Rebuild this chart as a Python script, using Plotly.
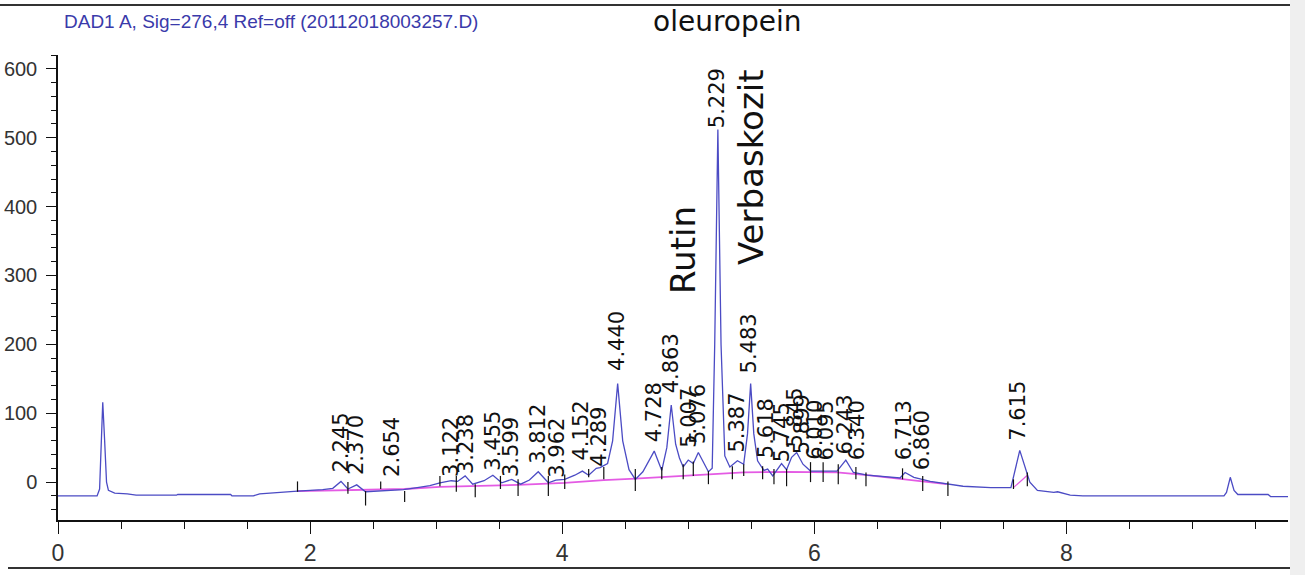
import plotly.graph_objects as go

# ---- chromatogram trace (retention time [min], absorbance [mAU]) ----
time_min = [0.00, 0.30, 0.31, 0.33, 0.345, 0.355, 0.37, 0.385, 0.40, 0.45, 0.55, 0.62, 0.94, 0.95,
            1.37, 1.38, 1.55, 1.60, 1.90, 2.10, 2.18, 2.245, 2.30, 2.37, 2.44, 2.55, 2.74, 2.85,
            2.95, 3.03, 3.12, 3.17, 3.23, 3.29, 3.38, 3.45, 3.52, 3.60, 3.67, 3.74, 3.81, 3.89,
            3.95, 4.02, 4.10, 4.16, 4.21, 4.27, 4.30, 4.36, 4.40, 4.44, 4.48, 4.53, 4.58, 4.64,
            4.68, 4.73, 4.79, 4.83, 4.865, 4.90, 4.93, 4.96, 5.00, 5.04, 5.08, 5.12, 5.16, 5.19,
            5.21, 5.235, 5.26, 5.29, 5.33, 5.39, 5.44, 5.47, 5.495, 5.52, 5.55, 5.60, 5.63, 5.67,
            5.74, 5.78, 5.82, 5.86, 5.91, 5.97, 6.07, 6.18, 6.25, 6.31, 6.42, 6.60, 6.68, 6.72,
            6.79, 6.92, 7.05, 7.18, 7.40, 7.56, 7.63, 7.71, 7.77, 7.90, 7.93, 8.03, 8.13, 9.25,
            9.27, 9.30, 9.33, 9.36, 9.60, 9.62, 9.76]
absorbance = [-20, -20, -20, -10, 80, 116, 60, 0, -12, -16, -17, -19, -19, -18,
              -18, -20, -20, -17, -13, -11, -9, 1, -10, -4, -14, -13, -11, -8,
              -5, -1, 2, 1, 9, -3, 2, 10, -1, 4, -3, 3, 15, -1,
              3, 4, 10, 16, 10, 20, 21, 27, 60, 143, 60, 18, 4, 15,
              28, 45, 17, 50, 112, 55, 35, 22, 32, 27, 43, 28, 15, 20,
              200, 512, 200, 38, 22, 31, 26, 70, 143, 70, 31, 17, 19, 9,
              27, 18, 36, 43, 26, 16, 16, 16, 32, 14, 10, 7, 6, 14,
              7, 1, -3, -6, -8, -8, 46, 0, -12, -15, -14, -19, -20, -20,
              -15, 7, -12, -18, -18, -21, -21]

# ---- integration baseline ----
base_time = [1.90, 2.30, 2.75, 3.03, 3.65, 4.02, 4.33, 4.58, 5.16, 5.44, 5.78, 6.18, 6.42, 6.86, 7.05]
base_abs = [-13, -12, -10, -7, -4, -1, 3, 5, 11, 14, 15, 14, 10, 1, -3]
base2_time = [7.58, 7.69]
base2_abs = [-8, 10]

# ---- peak start/end markers ----
mark_time = [1.90, 2.30, 2.44, 2.56, 2.75, 3.03, 3.16, 3.31, 3.51, 3.65, 3.89, 4.02, 4.21, 4.33,
             4.58, 4.79, 4.96, 5.04, 5.16, 5.35, 5.44, 5.59, 5.68, 5.78, 5.97, 6.07, 6.19, 6.33,
             6.41, 6.70, 6.86, 7.06, 7.58, 7.69]
mark_top = [1, 0, -13, 1, -13, 9, 9, -3, 9, 4, 9, 11, 19, 22,
            19, 22, 26, 30, 16, 23, 26, 23, 19, 19, 29, 29, 26, 22,
            14, 20, 9, 1, 4, 14]
mark_bottom = [-14, -17, -34, -10, -29, -6, -14, -22, -10, -20, -20, -10, 7, 4,
               -13, 4, 4, 9, -3, 4, 9, 4, -3, -6, 0, 0, -3, 4,
               -6, 4, -13, -20, -10, -6]

# ---- peak labels ----
peak_labels = ["2.245", "2.370", "2.654", "3.122", "3.238", "3.455", "3.599", "3.812", "3.962",
               "4.152", "4.289", "4.440", "4.728", "4.863", "5.007", "5.076", "5.229", "5.387",
               "5.483", "5.618", "5.745", "5.845", "5.899", "6.010", "6.095", "6.243", "6.340",
               "6.713", "6.860", "7.615"]
label_abs = [11, 7, 4, 4, 9, 13, 4, 23, 4, 29, 19, 158, 55, 126, 47, 52, 511, 40,
             155, 32, 26, 47, 37, 29, 29, 37, 29, 29, 14, 57]

title_text = "DAD1 A, Sig=276,4 Ref=off (20112018003257.D)"
compound_names = ["oleuropein", "Rutin", "Verbaskozit"]

y_ticks = [0, 100, 200, 300, 400, 500, 600]
x_ticks = [0, 2, 4, 6, 8]

# ---- geometry helpers (pixel -> paper) ----
W, H = 1305, 575
L, R, T, B = 58, 1288, 55, 520


def px(x):
    return (x - L) / (R - L)


def py(y):
    return (B - y) / (B - T)


fig = go.Figure()

fig.add_trace(go.Scatter(x=base_time, y=base_abs, mode="lines",
                         line=dict(color="#e45be4", width=1.8), hoverinfo="skip"))
fig.add_trace(go.Scatter(x=base2_time, y=base2_abs, mode="lines",
                         line=dict(color="#e45be4", width=1.2), hoverinfo="skip"))
fig.add_trace(go.Scatter(x=time_min, y=absorbance, mode="lines",
                         line=dict(color="#4b4bc4", width=1.3)))

mx, my = [], []
for t, a, b in zip(mark_time, mark_top, mark_bottom):
    mx += [t, t, None]
    my += [a, b, None]
fig.add_trace(go.Scatter(x=mx, y=my, mode="lines", line=dict(color="#111111", width=1.2),
                         hoverinfo="skip"))

annotations = []
for lab, ya in zip(peak_labels, label_abs):
    annotations.append(dict(x=float(lab), y=ya, xref="x", yref="y", text=lab,
                            textangle=-90, showarrow=False, xanchor="center", yanchor="bottom",
                            font=dict(family="DejaVu Sans", size=21, color="#111111")))

annotations.append(dict(x=px(62), y=py(22), xref="paper", yref="paper", text=title_text,
                        showarrow=False, xanchor="left", yanchor="middle",
                        font=dict(family="Liberation Sans", size=19, color="#3a3aaa")))
annotations.append(dict(x=px(727), y=py(22), xref="paper", yref="paper", text=compound_names[0],
                        showarrow=False, xanchor="center", yanchor="middle",
                        font=dict(family="DejaVu Sans", size=28, color="#111111")))
annotations.append(dict(x=px(683), y=py(250), xref="paper", yref="paper", text=compound_names[1],
                        showarrow=False, xanchor="center", yanchor="middle", textangle=-90,
                        font=dict(family="DejaVu Sans", size=34, color="#111111")))
annotations.append(dict(x=px(751), y=py(167), xref="paper", yref="paper", text=compound_names[2],
                        showarrow=False, xanchor="center", yanchor="middle", textangle=-90,
                        font=dict(family="DejaVu Sans", size=34, color="#111111")))

shapes = [
    dict(type="rect", xref="paper", yref="paper", x0=px(1290), x1=px(1306), y0=py(-2), y1=py(577),
         fillcolor="#efefef", line=dict(width=0), layer="below"),
    dict(type="line", xref="paper", yref="paper", x0=px(0), x1=px(1290), y0=py(5), y1=py(5),
         line=dict(color="#333333", width=2)),
    dict(type="line", xref="paper", yref="paper", x0=px(8), x1=px(1290), y0=py(568), y1=py(568),
         line=dict(color="#333333", width=2)),
]

fig.update_layout(
    width=W, height=H,
    margin=dict(l=L, r=W - R, t=T, b=H - B, autoexpand=False),
    paper_bgcolor="white", plot_bgcolor="white",
    showlegend=False,
    annotations=annotations,
    shapes=shapes,
    xaxis=dict(range=[0, 9.758], tickvals=x_ticks, showgrid=False, zeroline=False,
               automargin=False,
               showline=True, linecolor="#111111", linewidth=1.5,
               ticks="outside", ticklen=12, tickcolor="#111111", tickwidth=1,
               tickfont=dict(family="Liberation Sans", size=23, color="#333333"),
               minor=dict(dtick=0.5, tick0=0, ticks="outside", ticklen=7, tickcolor="#111111")),
    yaxis=dict(range=[-55, 620], tickvals=y_ticks, showgrid=False, zeroline=False,
               automargin=False,
               showline=True, linecolor="#111111", linewidth=1.5,
               ticks="outside", ticklen=10, tickcolor="#111111", tickwidth=1,
               ticklabelstandoff=5,
               tickfont=dict(family="Liberation Sans", size=20, color="#333333"),
               minor=dict(dtick=20, tick0=0, ticks="outside", ticklen=5, tickcolor="#111111")),
)

fig.write_html("out.html", config={"displayModeBar": False},
               post_script="document.body.style.margin='0';document.body.style.padding='0';")
